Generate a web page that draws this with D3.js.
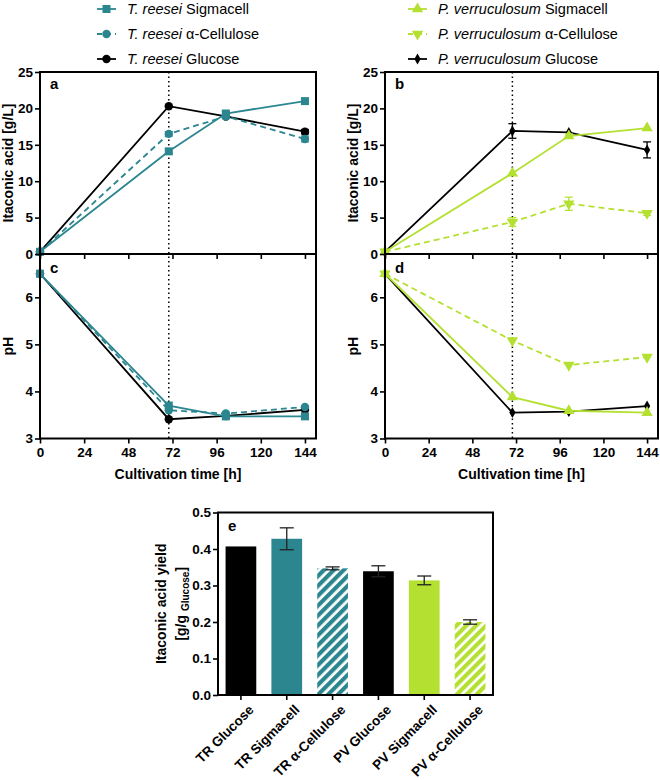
<!DOCTYPE html>
<html>
<head>
<meta charset="utf-8">
<script src="https://cdn.jsdelivr.net/npm/d3@7"></script>
<style>
  body { margin: 0; background: #fff; }
  svg { font-family: "Liberation Sans", Arial, sans-serif; }
</style>
</head>
<body>
<div id="chart"></div>
<script>
// sampling times (h)
const times = [0, 70, 101, 144];
const timeTicks = [0, 24, 48, 72, 96, 120, 144];

// T. reesei itaconic acid [g/L]
const trSigmaIA = [0.3, 14.1, 19.3, 21.0];
const trCellIA = [0.3, 16.5, 18.9, 15.8];
const trGlucIA = [0.3, 20.3, 18.9, 16.8];
const trSigmaIAErr = [0, 0.3, 0.3, 0.2];
const trCellIAErr = [0, 0.3, 0.3, 0.4];
const trGlucIAErr = [0, 0.2, 0.2, 0.3];

// P. verruculosum itaconic acid [g/L]
const pvSigmaIA = [0.3, 11.1, 16.2, 17.3];
const pvCellIA = [0.3, 4.4, 6.9, 5.6];
const pvGlucIA = [0.3, 16.9, 16.7, 14.3];
const pvSigmaIAErr = [0, 0.2, 0.3, 0.2];
const pvCellIAErr = [0, 0.6, 0.9, 0.3];
const pvGlucIAErr = [0, 1.0, 0.2, 1.1];

// T. reesei pH
const trSigmaPH = [6.5, 3.7, 3.47, 3.47];
const trCellPH = [6.5, 3.6, 3.53, 3.67];
const trGlucPH = [6.5, 3.41, 3.48, 3.61];

// P. verruculosum pH
const pvSigmaPH = [6.5, 3.88, 3.59, 3.55];
const pvCellPH = [6.5, 5.08, 4.56, 4.73];
const pvGlucPH = [6.5, 3.55, 3.57, 3.69];
const pvCellPHErr = [0, 0.18, 0.08, 0.07];

// yield bars
const yieldCats = ["TR Glucose", "TR Sigmacell", "TR α-Cellulose", "PV Glucose", "PV Sigmacell", "PV α-Cellulose"];
const yieldVals = [0.407, 0.428, 0.347, 0.339, 0.314, 0.200];
const yieldErr = [0.001, 0.030, 0.004, 0.015, 0.012, 0.006];

const TEAL = "#2b8690";
const GREEN = "#b4e032";
const W = 660, H = 780;

const svg = d3.select("#chart").append("svg")
    .attr("width", W).attr("height", H);

const defs = svg.append("defs");
function hatch(id, color) {
    const p = defs.append("pattern")
        .attr("id", id)
        .attr("patternUnits", "userSpaceOnUse")
        .attr("width", 7).attr("height", 7)
        .attr("patternTransform", "rotate(45)");
    p.append("rect").attr("width", 7).attr("height", 7).attr("fill", "#fff");
    p.append("rect").attr("width", 4.2).attr("height", 7).attr("fill", color);
}
hatch("hatchTeal", TEAL);
hatch("hatchGreen", GREEN);

const symbols = {
    square: d3.symbol(d3.symbolSquare, 64)(),
    circle: d3.symbol(d3.symbolCircle, 56)(),
    triUp: d3.symbol(d3.symbolTriangle, 56)(),
    diamond: d3.symbol(d3.symbolDiamond, 34)()
};

function series(name, values, err, color, dashed, sym, rot) {
    return { name, values, err, color, dashed, sym, rot: rot || 0 };
}

const trIA = [
    series("Glucose", trGlucIA, trGlucIAErr, "#000", false, "circle"),
    series("α-Cellulose", trCellIA, trCellIAErr, TEAL, true, "circle"),
    series("Sigmacell", trSigmaIA, trSigmaIAErr, TEAL, false, "square")
];
const pvIA = [
    series("Glucose", pvGlucIA, pvGlucIAErr, "#000", false, "diamond"),
    series("α-Cellulose", pvCellIA, pvCellIAErr, GREEN, true, "triUp", 180),
    series("Sigmacell", pvSigmaIA, pvSigmaIAErr, GREEN, false, "triUp")
];
const trPH = [
    series("Glucose", trGlucPH, null, "#000", false, "circle"),
    series("α-Cellulose", trCellPH, null, TEAL, true, "circle"),
    series("Sigmacell", trSigmaPH, null, TEAL, false, "square")
];
const pvPH = [
    series("Glucose", pvGlucPH, null, "#000", false, "diamond"),
    series("α-Cellulose", pvCellPH, pvCellPHErr, GREEN, true, "triUp", 180),
    series("Sigmacell", pvSigmaPH, null, GREEN, false, "triUp")
];

function drawSeries(g, data, x, y) {
    data.forEach(s => {
        const pts = times.map((t, i) => ({ t, v: s.values[i], e: s.err ? s.err[i] : 0 }));
        g.append("path")
            .datum(pts)
            .attr("fill", "none")
            .attr("stroke", s.color)
            .attr("stroke-width", 1.8)
            .attr("stroke-dasharray", s.dashed ? "6,4" : null)
            .attr("d", d3.line().x(d => x(d.t)).y(d => y(d.v)));
        const eb = g.append("g").attr("stroke", s.color).attr("stroke-width", 1.3);
        pts.filter(d => d.e > 0.25).forEach(d => {
            const cx = x(d.t);
            eb.append("line").attr("x1", cx).attr("x2", cx).attr("y1", y(d.v - d.e)).attr("y2", y(d.v + d.e));
            [d.v - d.e, d.v + d.e].forEach(v => {
                eb.append("line").attr("x1", cx - 4).attr("x2", cx + 4).attr("y1", y(v)).attr("y2", y(v));
            });
        });
        g.selectAll(null).data(pts).enter().append("path")
            .attr("d", symbols[s.sym])
            .attr("fill", s.color)
            .attr("transform", d => `translate(${x(d.t)},${y(d.v)}) rotate(${s.rot})`);
    });
}

function styleAxis(g) {
    g.select(".domain").remove();
    g.selectAll(".tick line").attr("stroke", "#000").attr("stroke-width", 1.6);
    g.selectAll(".tick text")
        .attr("font-size", 13.5).attr("font-weight", "bold").attr("fill", "#000");
}

function frame(g, x0, y0, x1, y1) {
    g.append("rect").attr("x", x0).attr("y", y0)
        .attr("width", x1 - x0).attr("height", y1 - y0)
        .attr("fill", "none").attr("stroke", "#000").attr("stroke-width", 2);
}

function panelPair(left, right, iaData, phData, labels, legendX, legendSeries, species) {
    const x = d3.scaleLinear().domain([0, 150]).range([left, right]);
    const yIA = d3.scaleLinear().domain([0, 25]).range([254, 72]);
    const yPH = d3.scaleLinear().domain([3, 6.92]).range([438.5, 254]);

    // dotted line at second sampling
    svg.append("line")
        .attr("x1", x(times[1])).attr("x2", x(times[1]))
        .attr("y1", 72).attr("y2", 438.5)
        .attr("stroke", "#000").attr("stroke-width", 1.5)
        .attr("stroke-dasharray", "1.5,3");

    const gA = svg.append("g");
    drawSeries(gA, iaData, x, yIA);
    const gC = svg.append("g");
    drawSeries(gC, phData, x, yPH);

    // axes
    const ya = svg.append("g").attr("transform", `translate(${left},0)`)
        .call(d3.axisLeft(yIA).tickValues([0, 5, 10, 15, 20, 25]).tickSize(5).tickPadding(2));
    styleAxis(ya);
    const yc = svg.append("g").attr("transform", `translate(${left},0)`)
        .call(d3.axisLeft(yPH).tickValues([3, 4, 5, 6]).tickFormat(d3.format("d")).tickSize(5).tickPadding(2));
    styleAxis(yc);
    const xa = svg.append("g").attr("transform", "translate(0,254)")
        .call(d3.axisBottom(x).tickValues(timeTicks).tickSize(5).tickFormat(""));
    styleAxis(xa);
    const xc = svg.append("g").attr("transform", "translate(0,438.5)")
        .call(d3.axisBottom(x).tickValues(timeTicks).tickSize(5).tickPadding(4));
    styleAxis(xc);

    frame(svg, left, 72, right, 254);
    frame(svg, left, 254, right, 438.5);

    // panel letters
    svg.append("text").attr("x", left + 10).attr("y", 89).text(labels[0])
        .attr("font-size", 15).attr("font-weight", "bold");
    svg.append("text").attr("x", left + 10).attr("y", 273).text(labels[1])
        .attr("font-size", 15).attr("font-weight", "bold");

    // axis titles
    svg.append("text")
        .attr("transform", `translate(${left - 27},${(72 + 254) / 2}) rotate(-90)`)
        .attr("text-anchor", "middle").attr("font-size", 14).attr("font-weight", "bold")
        .text("Itaconic acid [g/L]");
    svg.append("text")
        .attr("transform", `translate(${left - 27},${(254 + 438.5) / 2}) rotate(-90)`)
        .attr("text-anchor", "middle").attr("font-size", 14).attr("font-weight", "bold")
        .text("pH");
    svg.append("text")
        .attr("x", (left + right) / 2).attr("y", 479)
        .attr("text-anchor", "middle").attr("font-size", 14).attr("font-weight", "bold")
        .text("Cultivation time [h]");

    // legend
    const order = ["Sigmacell", "α-Cellulose", "Glucose"];
    order.forEach((nm, i) => {
        const s = legendSeries.find(d => d.name === nm);
        const ly = 9 + i * 25;
        const lg = svg.append("g");
        lg.append("line").attr("x1", legendX).attr("x2", legendX + 19)
            .attr("y1", ly).attr("y2", ly)
            .attr("stroke", s.color).attr("stroke-width", 1.8)
            .attr("stroke-dasharray", s.dashed ? "5,4" : null);
        lg.append("path").attr("d", symbols[s.sym]).attr("fill", s.color)
            .attr("transform", `translate(${legendX + 9.5},${ly}) rotate(${s.rot})`);
        const t = lg.append("text").attr("x", legendX + 30).attr("y", ly + 5)
            .attr("font-size", 14.5);
        t.append("tspan").attr("font-style", "italic").text(species + " ");
        t.append("tspan").text(nm);
    });
}

panelPair(40, 316, trIA, trPH, ["a", "c"], 97, trIA, "T. reesei");
panelPair(385, 658, pvIA, pvPH, ["b", "d"], 408, pvIA, "P. verruculosum");

// ---- panel e: yield bars
const ex0 = 218, ex1 = 493, ey0 = 512.5, ey1 = 695;
const xb = d3.scaleBand().domain(yieldCats).range([ex0, ex1])
    .paddingInner(0.33).paddingOuter(0.165);
const yb = d3.scaleLinear().domain([0, 0.5]).range([ey1, ey0]);
const barFill = [
    "#000", TEAL, "url(#hatchTeal)", "#000", GREEN, "url(#hatchGreen)"
];

const gE = svg.append("g");
gE.selectAll("rect.bar").data(yieldCats).enter().append("rect")
    .attr("class", "bar")
    .attr("x", d => xb(d)).attr("width", xb.bandwidth())
    .attr("y", (d, i) => yb(yieldVals[i]))
    .attr("height", (d, i) => ey1 - yb(yieldVals[i]))
    .attr("fill", (d, i) => barFill[i]);

yieldCats.forEach((c, i) => {
    const cx = xb(c) + xb.bandwidth() / 2;
    const e = yieldErr[i];
    if (e < 0.002) return;
    const eg = gE.append("g").attr("stroke", "#222").attr("stroke-width", 1.3);
    eg.append("line").attr("x1", cx).attr("x2", cx)
        .attr("y1", yb(yieldVals[i] - e)).attr("y2", yb(yieldVals[i] + e));
    [yieldVals[i] - e, yieldVals[i] + e].forEach(v => {
        eg.append("line").attr("x1", cx - 7).attr("x2", cx + 7).attr("y1", yb(v)).attr("y2", yb(v));
    });
});

const ye = svg.append("g").attr("transform", `translate(${ex0},0)`)
    .call(d3.axisLeft(yb).tickValues([0, 0.1, 0.2, 0.3, 0.4, 0.5]).tickFormat(d3.format(".1f")).tickSize(5).tickPadding(2));
styleAxis(ye);
const xe = svg.append("g").attr("transform", `translate(0,${ey1})`)
    .call(d3.axisBottom(xb).tickSize(5).tickPadding(4));
styleAxis(xe);
xe.selectAll(".tick text")
    .attr("text-anchor", "end")
    .attr("dy", "0.35em")
    .attr("transform", "translate(4,6) rotate(-45)");
frame(svg, ex0, ey0, ex1, ey1);

svg.append("text").attr("x", ex0 + 10).attr("y", 531).text("e")
    .attr("font-size", 15).attr("font-weight", "bold");

const yt = svg.append("text")
    .attr("transform", `translate(166,${(ey0 + ey1) / 2}) rotate(-90)`)
    .attr("text-anchor", "middle").attr("font-size", 14).attr("font-weight", "bold");
yt.append("tspan").attr("x", 0).attr("dy", 0).text("Itaconic acid yield");
const l2 = yt.append("tspan").attr("x", 0).attr("dy", 20);
l2.append("tspan").text("[g/g ");
l2.append("tspan").attr("font-size", 10).attr("dy", 3).text("Glucose");
l2.append("tspan").attr("dy", -3).text("]");
</script>
</body>
</html>
